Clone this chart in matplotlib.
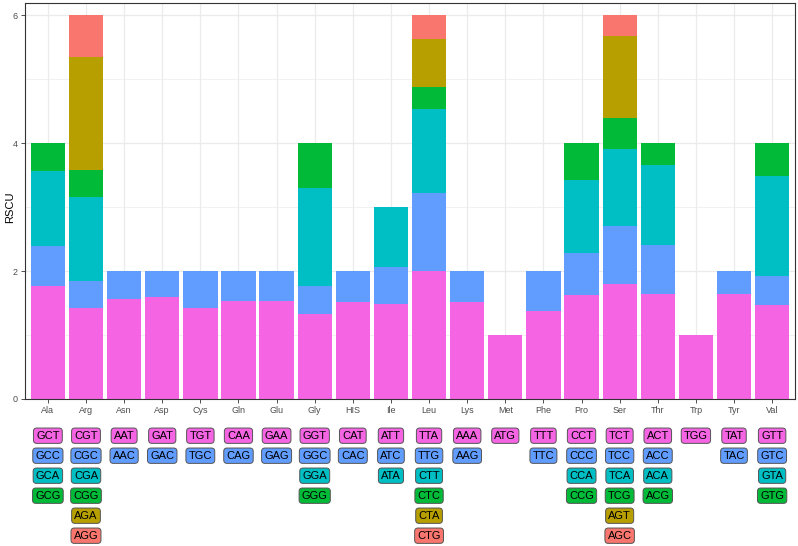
import numpy as np
import matplotlib.pyplot as plt
from matplotlib.transforms import blended_transform_factory

plt.rcParams['font.family'] = ['Liberation Sans', 'DejaVu Sans']

amino_acids = ["Ala", "Arg", "Asn", "Asp", "Cys", "Gln", "Glu", "Gly", "HIS", "Ile",
               "Leu", "Lys", "Met", "Phe", "Pro", "Ser", "Thr", "Trp", "Tyr", "Val"]

codons = [
    ["GCT", "GCC", "GCA", "GCG"],
    ["CGT", "CGC", "CGA", "CGG", "AGA", "AGG"],
    ["AAT", "AAC"],
    ["GAT", "GAC"],
    ["TGT", "TGC"],
    ["CAA", "CAG"],
    ["GAA", "GAG"],
    ["GGT", "GGC", "GGA", "GGG"],
    ["CAT", "CAC"],
    ["ATT", "ATC", "ATA"],
    ["TTA", "TTG", "CTT", "CTC", "CTA", "CTG"],
    ["AAA", "AAG"],
    ["ATG"],
    ["TTT", "TTC"],
    ["CCT", "CCC", "CCA", "CCG"],
    ["TCT", "TCC", "TCA", "TCG", "AGT", "AGC"],
    ["ACT", "ACC", "ACA", "ACG"],
    ["TGG"],
    ["TAT", "TAC"],
    ["GTT", "GTC", "GTA", "GTG"],
]

rscu = [
    [1.76, 0.63, 1.17, 0.44],
    [1.43, 0.41, 1.31, 0.43, 1.77, 0.65],
    [1.57, 0.43],
    [1.60, 0.40],
    [1.42, 0.58],
    [1.53, 0.47],
    [1.53, 0.47],
    [1.33, 0.44, 1.53, 0.70],
    [1.52, 0.48],
    [1.49, 0.57, 0.94],
    [2.00, 1.22, 1.31, 0.34, 0.75, 0.38],
    [1.51, 0.49],
    [1.00],
    [1.38, 0.62],
    [1.63, 0.65, 1.15, 0.57],
    [1.79, 0.92, 1.20, 0.49, 1.28, 0.32],
    [1.64, 0.76, 1.26, 0.34],
    [1.00],
    [1.64, 0.36],
    [1.47, 0.45, 1.56, 0.52],
]

# ggplot hue palette (6 levels), bottom codon first
colors = ["#F564E3", "#619CFF", "#00BFC4", "#00BA38", "#B79F00", "#F8766D"]

W, H = 798, 546
fig = plt.figure(figsize=(W / 100, H / 100), dpi=100)

# main panel in pixel coordinates
left, right, top, bottom = 25, 795, 3, 399
ax = fig.add_axes([left / W, 1 - bottom / H, (right - left) / W, (bottom - top) / H])

x = np.arange(1, len(amino_acids) + 1)
for i, vals in enumerate(rscu):
    base = 0
    for j, v in enumerate(vals):
        ax.bar(x[i], v, bottom=base, width=0.9, color=colors[j], linewidth=0, zorder=2)
        base += v

ax.set_xlim(0.4, len(amino_acids) + 0.6)
ax.set_ylim(0, 6.19)
ax.set_xticks(x)
ax.set_xticklabels(amino_acids)
ax.set_yticks([0, 2, 4, 6])
ax.set_yticks([1, 3, 5], minor=True)
ax.grid(True, which='major', color='#EBEBEB', linewidth=0.9, zorder=0)
ax.grid(True, which='minor', axis='y', color='#EBEBEB', linewidth=0.5, zorder=0)
ax.tick_params(axis='both', which='major', length=3, width=0.6, color='#333333',
               labelsize=6.5, labelcolor='#4D4D4D', pad=2)
ax.tick_params(axis='y', which='minor', length=0)
for s in ax.spines.values():
    s.set_color('#333333')
    s.set_linewidth(0.8)
ax.set_axisbelow(True)
fig.text(10 / W, 1 - 207 / H, "RSCU", rotation=90, ha='center', va='center', fontsize=8)

# codon labels below the panel
trans = blended_transform_factory(ax.transData, fig.transFigure)
row_y0, row_dy = 435.7, 20
for i, cods in enumerate(codons):
    for j, c in enumerate(cods):
        yy = 1 - (row_y0 + j * row_dy) / H
        ax.text(x[i], yy, c, transform=trans, ha='center', va='center', fontsize=8,
                color='black', clip_on=False,
                bbox=dict(boxstyle='round,pad=0.24,rounding_size=0.3', fc=colors[j],
                          ec='#555555', lw=0.7))

fig.savefig("out.png", dpi=100)
